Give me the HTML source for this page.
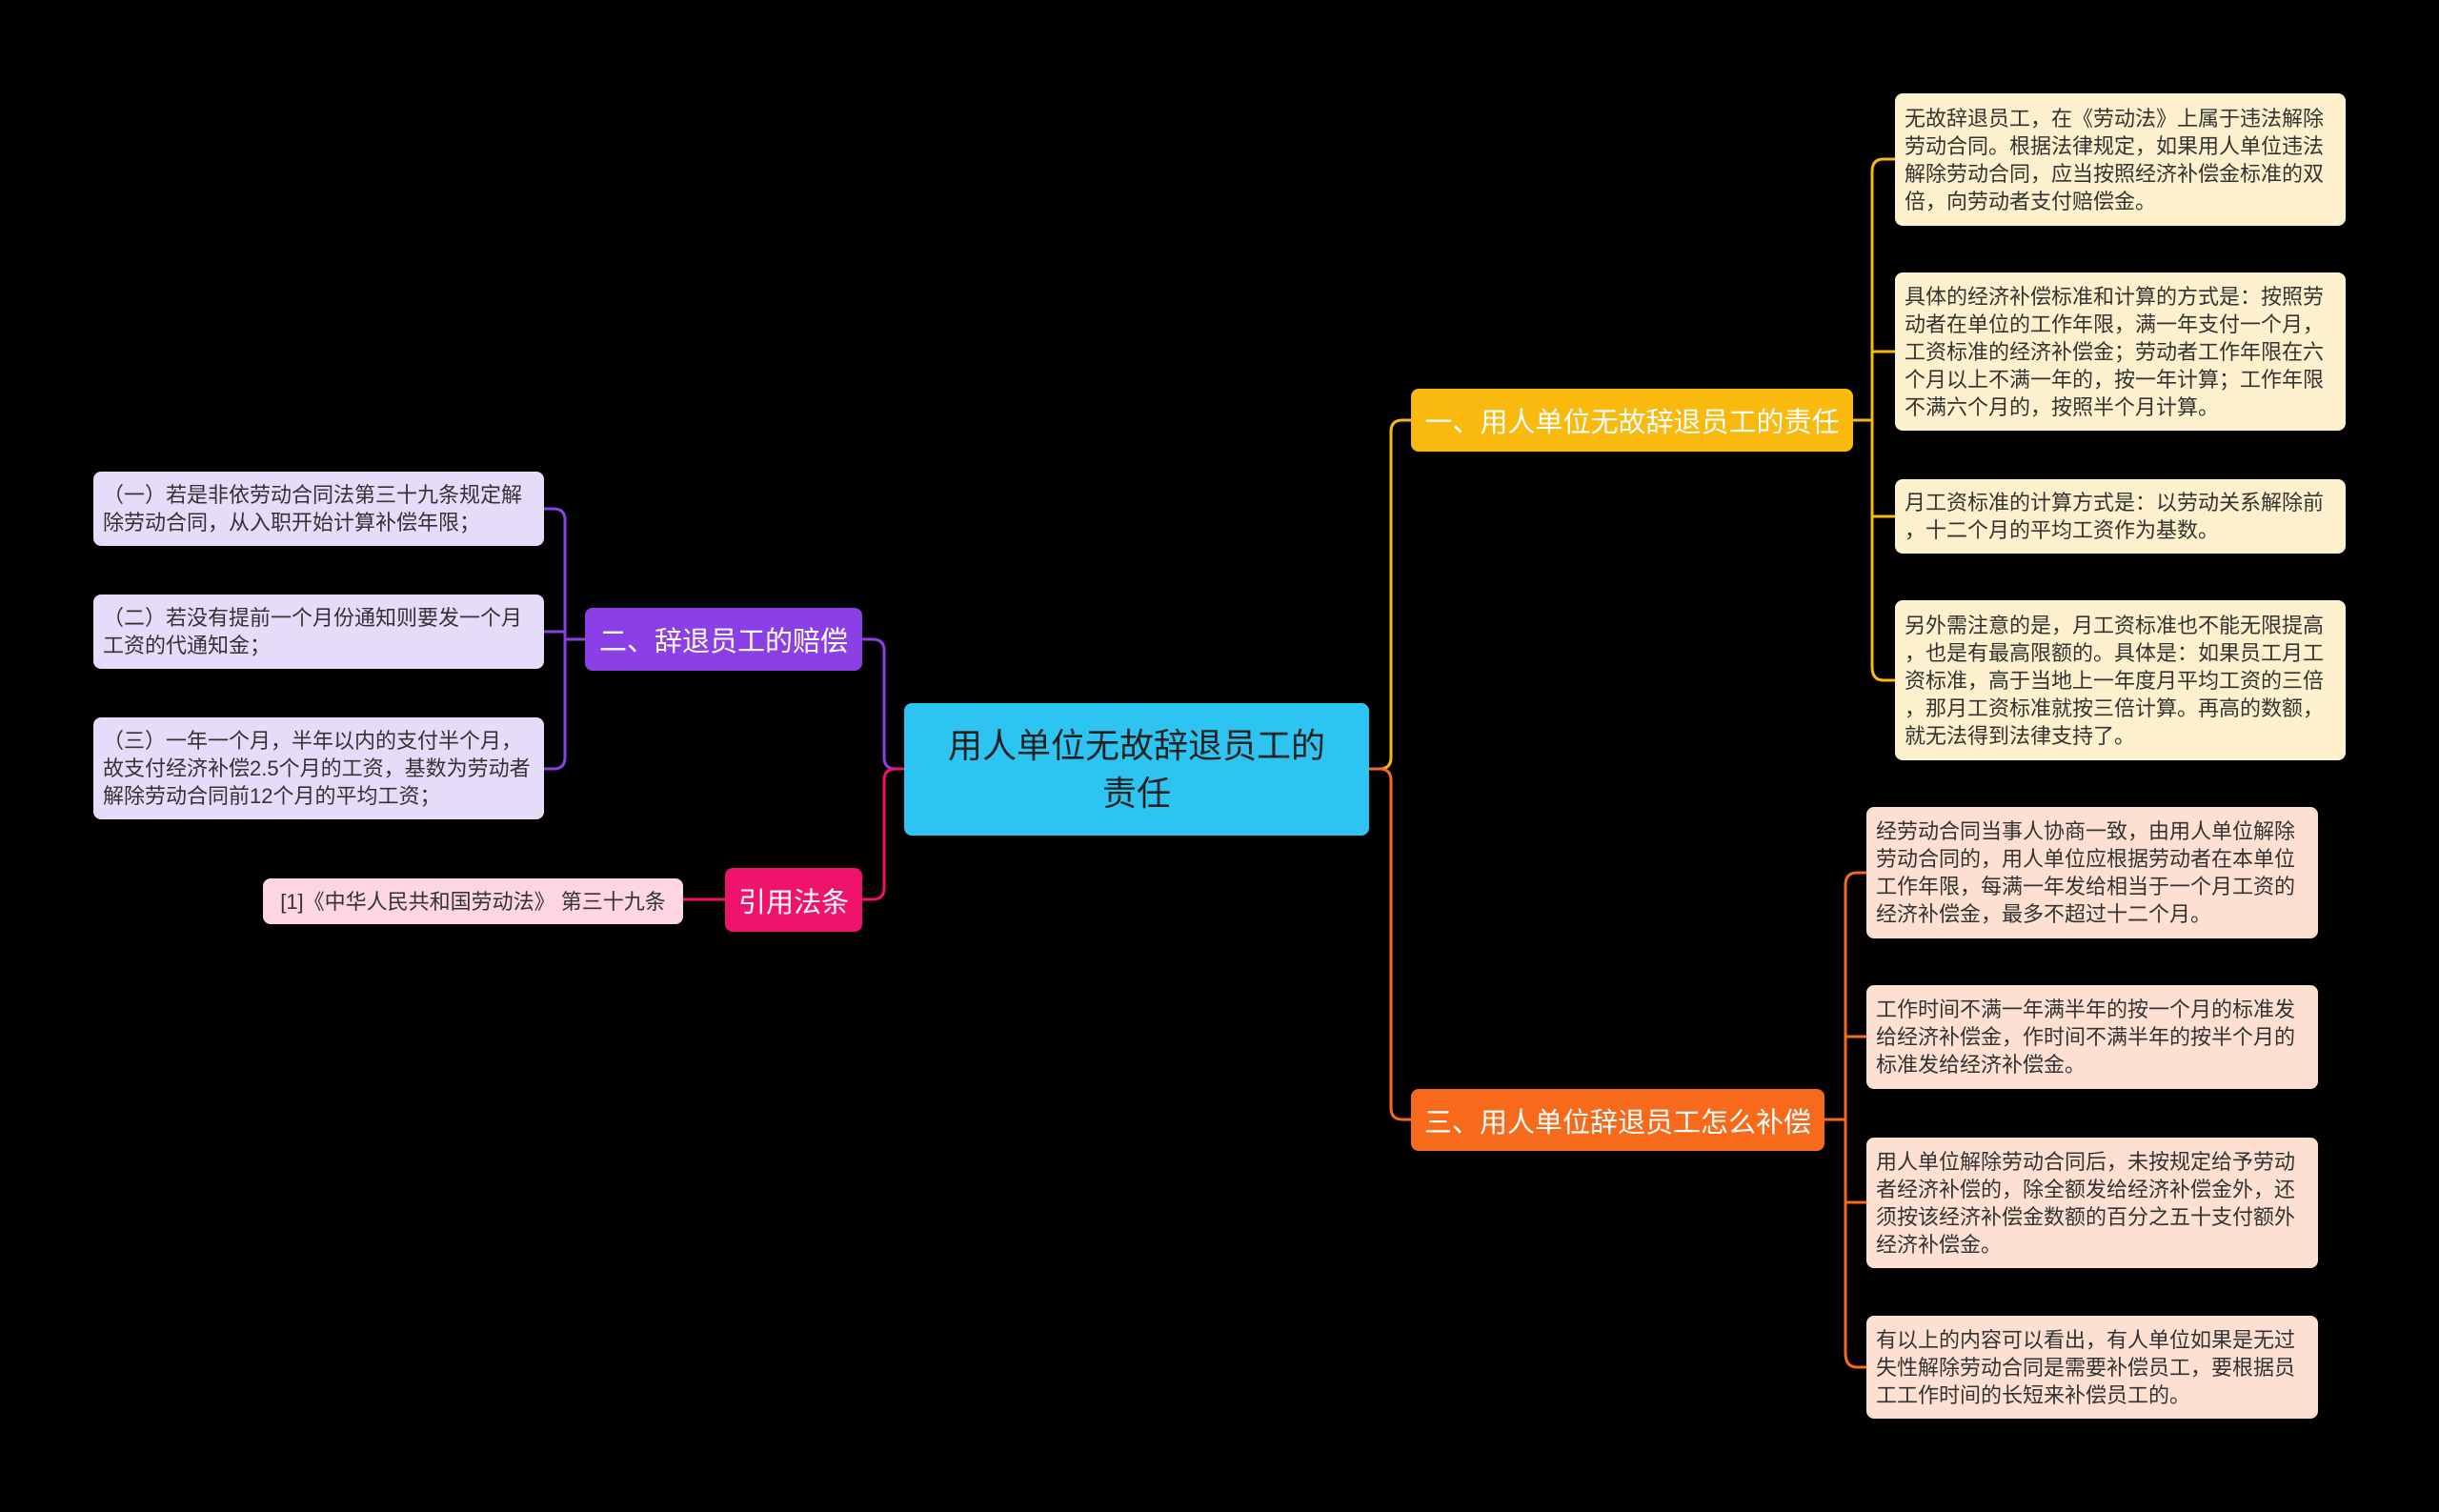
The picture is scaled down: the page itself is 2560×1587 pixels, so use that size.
<!DOCTYPE html>
<html><head><meta charset="utf-8"><style>
body{margin:0;width:2560px;height:1587px;background:#000;overflow:hidden;position:relative;font-family:"Liberation Sans","Noto Sans CJK SC",sans-serif}
.n{position:absolute;box-sizing:border-box;border-radius:8px;display:flex;align-items:center}
.leaf{font-size:22px;line-height:29px;padding:8px 10px;color:#333;line-break:anywhere}
.y{background:#fdf0cc}
.o{background:#fde0d2}
.p{background:#e7dbfa}
.k{background:#fdd5e5}
.br{color:#fff;font-size:29px;justify-content:center;white-space:nowrap}
svg{position:absolute;left:0;top:0}
</style></head><body>
<svg width="2560" height="1587" fill="none" stroke-width="3">
<path d="M1437 807 H1448 Q1460 807 1460 795 V453 Q1460 441 1472 441 H1481" stroke="#f9b90f"/>
<path d="M1437 807 H1448 Q1460 807 1460 819 V1163 Q1460 1175 1472 1175 H1481" stroke="#f76a1c"/>
<path d="M1945 441 H1965 M1965 180 V700 M1965 180 Q1965 167 1977 167 H1989 M1965 369 H1989 M1965 542 Q1965 542 1989 542 M1965 700 Q1965 714 1977 714 H1989" stroke="#f9b90f"/>
<path d="M1915 1175 H1937 M1937 929 V1420 M1937 929 Q1937 916 1949 916 H1959 M1937 1088 H1959 M1937 1262 H1959 M1937 1420 Q1937 1435 1949 1435 H1959" stroke="#f76a1c"/>
<path d="M949 807 H940 Q928 807 928 795 V683 Q928 671 916 671 H905" stroke="#8b3fe6"/>
<path d="M949 807 H940 Q928 807 928 819 V932 Q928 944 916 944 H905" stroke="#f0136b"/>
<path d="M614 671 H593 M593 546 V795 M593 546 Q593 534 581 534 H571 M593 663 H571 M593 795 Q593 807 581 807 H571" stroke="#8b3fe6"/>
<path d="M761 944 H717" stroke="#f0136b"/>
</svg>
<div class="n br" style="left:949px;top:738px;width:488px;height:139px;background:#2ec4f2;color:#222;font-size:36px;line-height:50px;text-align:center;white-space:normal;padding:0 40px">用人单位无故辞退员工的责任</div>
<div class="n br" style="left:1481px;top:408px;width:464px;height:66px;background:#f9b90f;color:#fff">一、用人单位无故辞退员工的责任</div>
<div class="n br" style="left:1481px;top:1143px;width:434px;height:65px;background:#f76a1c">三、用人单位辞退员工怎么补偿</div>
<div class="n br" style="left:614px;top:638px;width:291px;height:66px;background:#8b3fe6">二、辞退员工的赔偿</div>
<div class="n br" style="left:761px;top:911px;width:144px;height:67px;background:#f0136b">引用法条</div>
<div class="n leaf y" style="left:1989px;top:98px;width:473px;height:139px">无故辞退员工，在《劳动法》上属于违法解除劳动合同。根据法律规定，如果用人单位违法解除劳动合同，应当按照经济补偿金标准的双倍，向劳动者支付赔偿金。</div>
<div class="n leaf y" style="left:1989px;top:286px;width:473px;height:166px">具体的经济补偿标准和计算的方式是：按照劳动者在单位的工作年限，满一年支付一个月，工资标准的经济补偿金；劳动者工作年限在六个月以上不满一年的，按一年计算；工作年限不满六个月的，按照半个月计算。</div>
<div class="n leaf y" style="left:1989px;top:503px;width:473px;height:78px">月工资标准的计算方式是：以劳动关系解除前，十二个月的平均工资作为基数。</div>
<div class="n leaf y" style="left:1989px;top:630px;width:473px;height:168px">另外需注意的是，月工资标准也不能无限提高，也是有最高限额的。具体是：如果员工月工资标准，高于当地上一年度月平均工资的三倍，那月工资标准就按三倍计算。再高的数额，就无法得到法律支持了。</div>
<div class="n leaf o" style="left:1959px;top:847px;width:474px;height:138px">经劳动合同当事人协商一致，由用人单位解除劳动合同的，用人单位应根据劳动者在本单位工作年限，每满一年发给相当于一个月工资的经济补偿金，最多不超过十二个月。</div>
<div class="n leaf o" style="left:1959px;top:1034px;width:474px;height:109px">工作时间不满一年满半年的按一个月的标准发给经济补偿金，作时间不满半年的按半个月的标准发给经济补偿金。</div>
<div class="n leaf o" style="left:1959px;top:1194px;width:474px;height:137px">用人单位解除劳动合同后，未按规定给予劳动者经济补偿的，除全额发给经济补偿金外，还须按该经济补偿金数额的百分之五十支付额外经济补偿金。</div>
<div class="n leaf o" style="left:1959px;top:1381px;width:474px;height:108px">有以上的内容可以看出，有人单位如果是无过失性解除劳动合同是需要补偿员工，要根据员工工作时间的长短来补偿员工的。</div>
<div class="n leaf p" style="left:98px;top:495px;width:473px;height:78px">（一）若是非依劳动合同法第三十九条规定解除劳动合同，从入职开始计算补偿年限；</div>
<div class="n leaf p" style="left:98px;top:624px;width:473px;height:78px">（二）若没有提前一个月份通知则要发一个月工资的代通知金；</div>
<div class="n leaf p" style="left:98px;top:753px;width:473px;height:107px">（三）一年一个月，半年以内的支付半个月，故支付经济补偿2.5个月的工资，基数为劳动者解除劳动合同前12个月的平均工资；</div>
<div class="n leaf k" style="left:276px;top:922px;width:441px;height:48px;justify-content:center;white-space:nowrap">[1]《中华人民共和国劳动法》 第三十九条</div>
</body></html>
